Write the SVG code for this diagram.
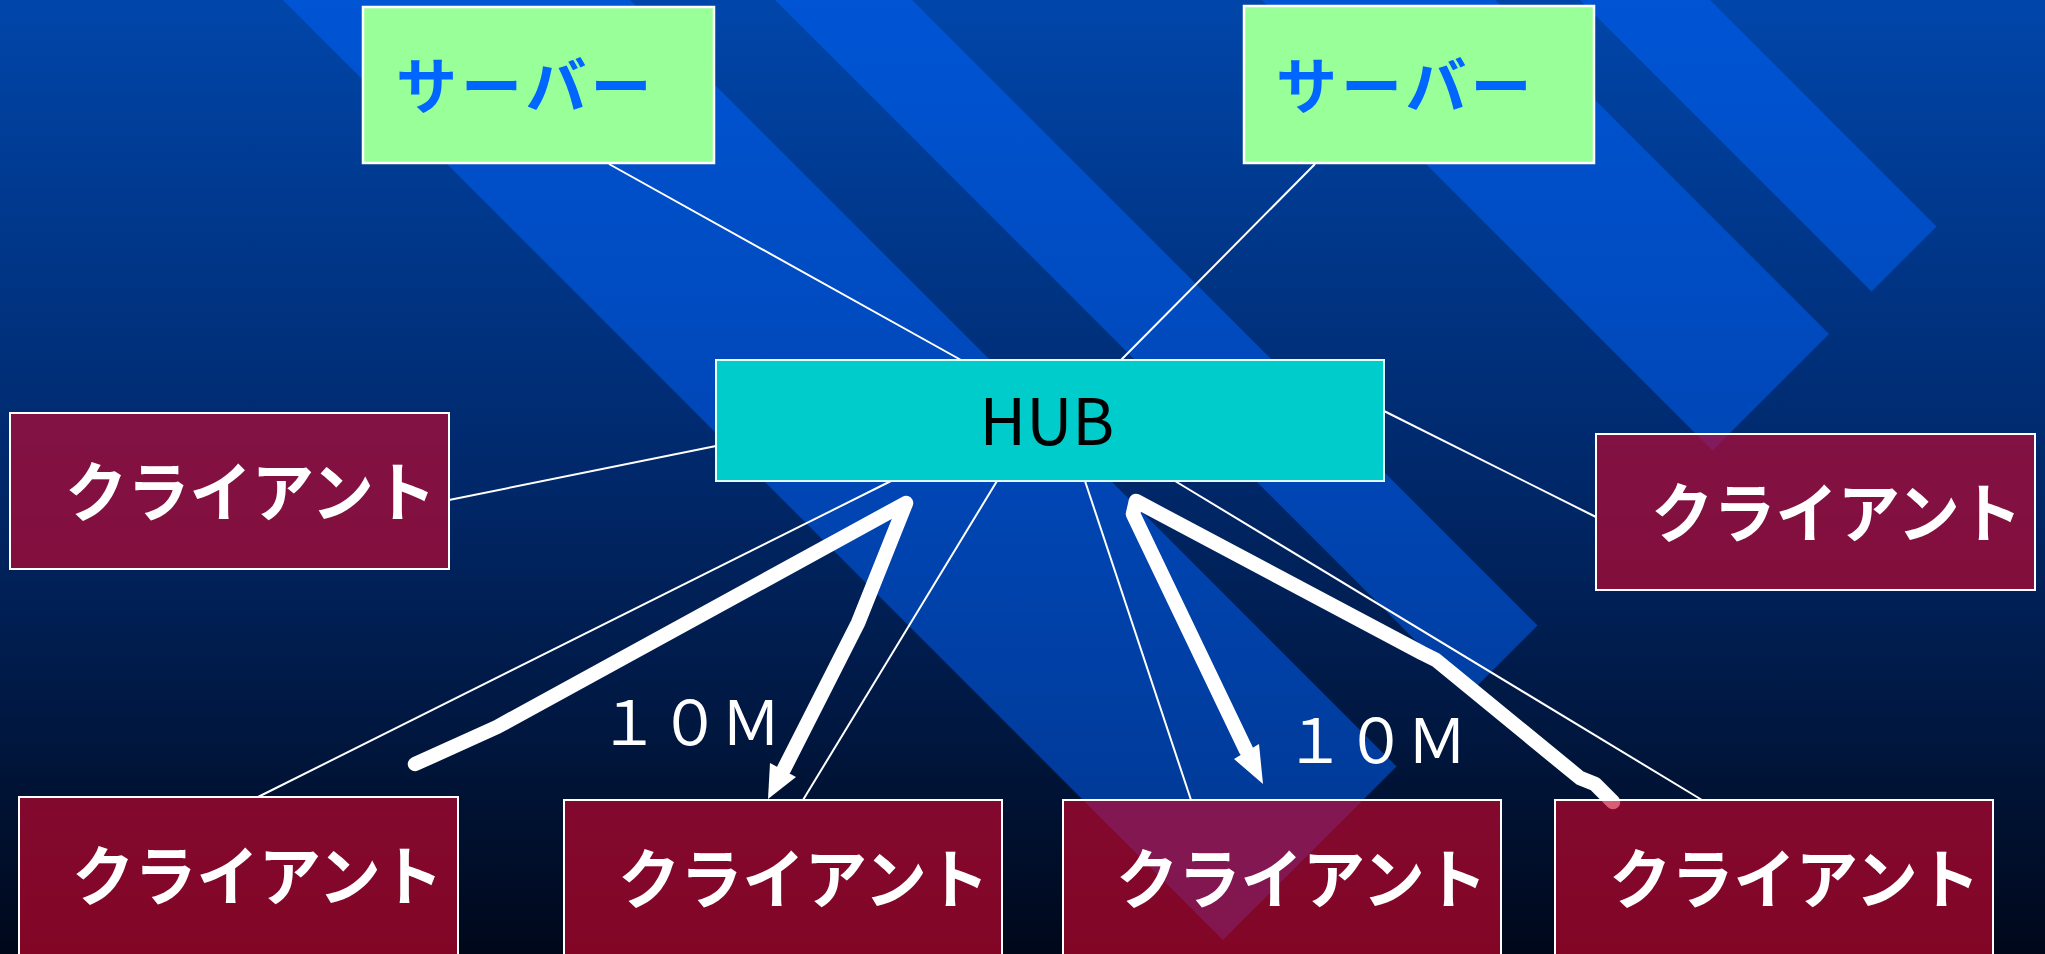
<svg xmlns="http://www.w3.org/2000/svg" width="2045" height="954" viewBox="0 0 2045 954">
<defs>
<linearGradient id="bg" x1="0" y1="0" x2="0" y2="1">
<stop offset="0" stop-color="#0046AA"/>
<stop offset="0.5" stop-color="#00286A"/>
<stop offset="1" stop-color="#00081A"/>
</linearGradient>
<style>
.stripe{fill:#0064FF;fill-opacity:0.5}
.thin{stroke:#FFFFFF;stroke-width:2;fill:none}
.thick{stroke:#FFFFFF;stroke-width:14.5;fill:none;stroke-linecap:round;stroke-linejoin:round}
.head{fill:#FFFFFF}
.srv rect{fill:#99FF99;stroke:#FFFFFF;stroke-width:2.5}
.srv text{fill:#0066FF;font-family:"Noto Sans CJK JP","Noto Sans",sans-serif;font-weight:bold;font-size:61px;letter-spacing:4px}
.cli rect{fill:#C8052D;fill-opacity:0.65;stroke:#FFFFFF;stroke-width:2}
.cli text{fill:#FFFFFF;font-family:"Noto Sans CJK JP","Noto Sans",sans-serif;font-weight:bold;font-size:65px}
.hub rect{fill:#00CCCC;stroke:#E0FFFF;stroke-width:2}
.hub text{fill:#000000;font-family:"Noto Sans CJK JP","Noto Sans",sans-serif;font-size:64px;text-anchor:middle}
.lbl{fill:#FFFFFF;font-family:"Noto Sans CJK JP","Noto Sans",sans-serif;font-size:61px;text-anchor:middle}
</style>
</defs>
<rect x="0" y="0" width="2045" height="954" fill="url(#bg)"/>
<g id="background-stripes">
<polygon class="stripe" points="283,0 630,0 1396.5,766.5 1223,940"/>
<polygon class="stripe" points="775,0 912,0 1537.5,625.5 1469,694"/>
<polygon class="stripe" points="1262,0 1495,0 1829,334 1712.5,450.5"/>
<polygon class="stripe" points="1580,0 1710,0 1936.5,226.5 1871.5,291.5"/>
</g>
<g id="connectors">
<line class="thin" x1="609" y1="164" x2="961" y2="360"/>
<line class="thin" x1="1315" y1="164" x2="1121" y2="360"/>
<line class="thin" x1="716" y1="446" x2="449" y2="500"/>
<line class="thin" x1="1384" y1="411" x2="1596" y2="517"/>
<line class="thin" x1="891" y1="481" x2="258" y2="797"/>
<line class="thin" x1="997" y1="481" x2="803" y2="800"/>
<line class="thin" x1="1085" y1="481" x2="1191" y2="800"/>
<line class="thin" x1="1175" y1="481" x2="1702" y2="800"/>
<polyline class="thick" points="415,764 497,727 906,503 858,623 784,769"/>
<polygon class="head" points="770,763 796,777 768,799"/>
<polyline class="thick" points="1246,750 1133,514 1136,501 1422,653 1436,660 1580,778 1595,784 1613,802"/>
<polygon class="head" points="1234,759 1259,744 1263,784"/>
</g>
<g id="labels">
<text class="lbl" x="690" y="745">１０Ｍ</text>
<text class="lbl" x="1376" y="763">１０Ｍ</text>
</g>
<g id="server-1" class="srv">
<rect x="363" y="7" width="351" height="156"/>
<text x="396" y="109">サーバー</text>
</g>
<g id="server-2" class="srv">
<rect x="1244" y="6" width="350" height="157"/>
<text x="1276" y="109">サーバー</text>
</g>
<g id="hub" class="hub">
<rect x="716" y="360" width="668" height="121"/>
<text x="1047" y="445">HUB</text>
</g>
<g id="client-left" class="cli">
<rect x="10" y="413" width="439" height="156"/>
<text x="65" y="516" textLength="371" lengthAdjust="spacingAndGlyphs">クライアント</text>
</g>
<g id="client-right" class="cli">
<rect x="1596" y="434" width="439" height="156"/>
<text x="1651" y="537" textLength="371" lengthAdjust="spacingAndGlyphs">クライアント</text>
</g>
<g id="client-bottom-1" class="cli">
<rect x="19" y="797" width="439" height="170"/>
<text x="72" y="900" textLength="371" lengthAdjust="spacingAndGlyphs">クライアント</text>
</g>
<g id="client-bottom-2" class="cli">
<rect x="564" y="800" width="438" height="170"/>
<text x="618" y="903" textLength="371" lengthAdjust="spacingAndGlyphs">クライアント</text>
</g>
<g id="client-bottom-3" class="cli">
<rect x="1063" y="800" width="438" height="170"/>
<text x="1116" y="903" textLength="371" lengthAdjust="spacingAndGlyphs">クライアント</text>
</g>
<g id="client-bottom-4" class="cli">
<rect x="1555" y="800" width="438" height="170"/>
<text x="1609" y="903" textLength="371" lengthAdjust="spacingAndGlyphs">クライアント</text>
</g>
</svg>
